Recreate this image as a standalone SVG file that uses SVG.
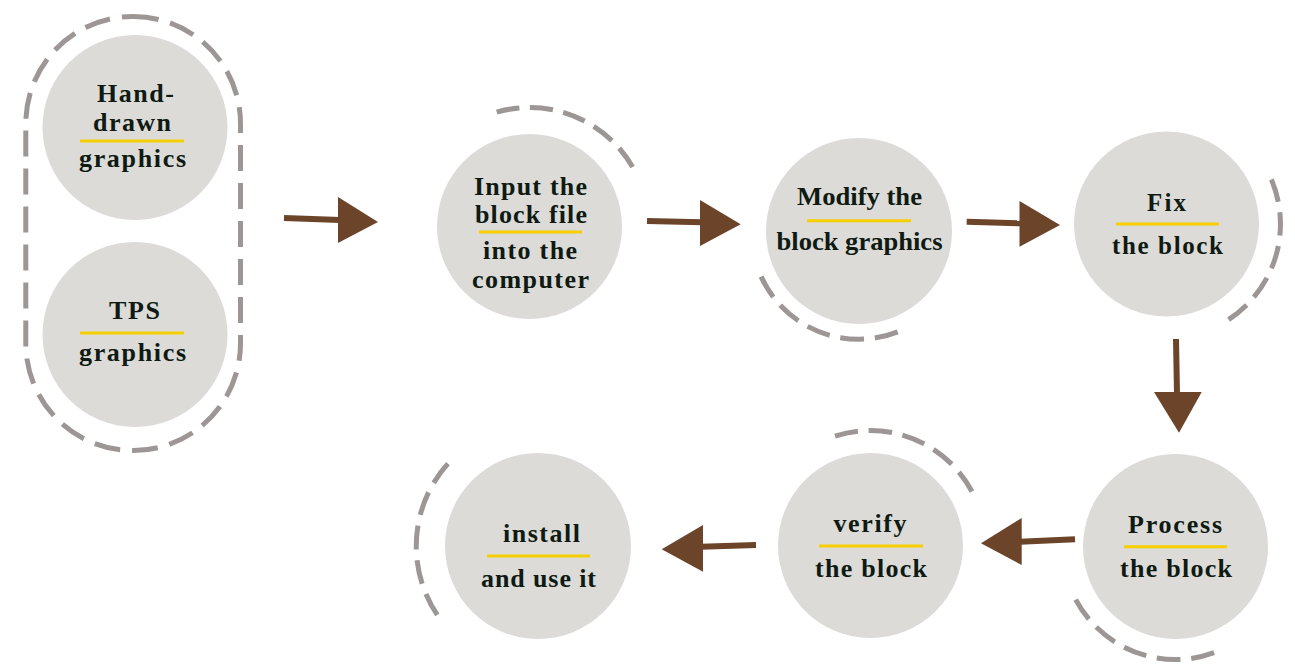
<svg xmlns="http://www.w3.org/2000/svg" width="1295" height="664" viewBox="0 0 1295 664">
<style>
.c{fill:#dcdbd8}
.d{fill:none;stroke:#9c9694;stroke-width:5;stroke-dasharray:22 10}
.y{stroke:#f7cf00;stroke-width:3}
.t{font-family:"Liberation Serif","Times New Roman",serif;font-weight:bold;fill:#0e1a12;text-anchor:middle;font-size:26px}
.m{font-size:25px}
.s{stroke:#6b4429;stroke-width:6;fill:none}
.h{fill:#6b4429}
</style>
<rect width="1295" height="664" fill="#ffffff"/>
<g id="group-left">
<rect class="d" x="25.8" y="16.5" width="214.7" height="434" rx="107" ry="107" style="stroke-dasharray:26 12"/>
</g>
<g id="node-hand">
<circle class="c" cx="135" cy="127.5" r="92.5"/>
<text class="t" x="135.5" y="102" textLength="77" lengthAdjust="spacing">Hand-</text>
<text class="t" x="132" y="131" textLength="78" lengthAdjust="spacing">drawn</text>
<line class="y" x1="80" y1="141" x2="184" y2="141"/>
<text class="t" x="132.5" y="167" textLength="107" lengthAdjust="spacing">graphics</text>
</g>
<g id="node-tps">
<circle class="c" cx="135" cy="334.5" r="92.5"/>
<text class="t" x="134.5" y="319" textLength="51" lengthAdjust="spacing">TPS</text>
<line class="y" x1="80" y1="333" x2="184" y2="333"/>
<text class="t" x="132.5" y="360.7" textLength="107" lengthAdjust="spacing">graphics</text>
</g>
<g id="node-input">
<path class="d" pathLength="150" d="M496.7,112.1 A119,119 0 0 1 632.6,167"/>
<circle class="c" cx="529.5" cy="226.5" r="92.5"/>
<text class="t" x="530.5" y="195" textLength="113" lengthAdjust="spacing">Input the</text>
<text class="t" x="531" y="223" textLength="112" lengthAdjust="spacing">block file</text>
<line class="y" x1="479" y1="232" x2="582" y2="232"/>
<text class="t" x="530" y="259" textLength="94" lengthAdjust="spacing">into the</text>
<text class="t" x="530.5" y="288" textLength="117" lengthAdjust="spacing">computer</text>
</g>
<g id="node-modify">
<path class="d" pathLength="150" d="M897.7,331.8 A107,107 0 0 1 761.1,276.6"/>
<circle class="c" cx="859" cy="231" r="93"/>
<text class="t m" x="859.5" y="205" textLength="125" lengthAdjust="spacingAndGlyphs">Modify the</text>
<line class="y" x1="807" y1="220.7" x2="911" y2="220.7"/>
<text class="t m" x="859.5" y="250" textLength="166" lengthAdjust="spacingAndGlyphs">block graphics</text>
</g>
<g id="node-fix">
<path class="d" pathLength="150" d="M1271.4,179.5 A114,114 0 0 1 1228.6,319.6"/>
<circle class="c" cx="1166.5" cy="224" r="92.5"/>
<text class="t m" x="1166.5" y="210.7" textLength="39" lengthAdjust="spacing">Fix</text>
<line class="y" x1="1116" y1="224" x2="1219" y2="224"/>
<text class="t m" x="1167.5" y="254" textLength="111" lengthAdjust="spacing">the block</text>
</g>
<g id="node-process">
<path class="d" pathLength="150" d="M1214.1,652.7 A113,113 0 0 1 1075.7,599.6"/>
<circle class="c" cx="1175.5" cy="546.5" r="92.5"/>
<text class="t" x="1175" y="533" textLength="94" lengthAdjust="spacing">Process</text>
<line class="y" x1="1124" y1="546.7" x2="1227" y2="546.7"/>
<text class="t" x="1176" y="576.7" textLength="112" lengthAdjust="spacing">the block</text>
</g>
<g id="node-verify">
<path class="d" pathLength="150" d="M835,436.1 A115,115 0 0 1 972,491.5"/>
<circle class="c" cx="870.5" cy="545.5" r="92.5"/>
<text class="t" x="870" y="531.7" textLength="73" lengthAdjust="spacing">verify</text>
<line class="y" x1="819" y1="546" x2="923" y2="546"/>
<text class="t" x="871" y="576.7" textLength="112" lengthAdjust="spacing">the block</text>
</g>
<g id="node-install">
<path class="d" pathLength="150" d="M437.3,614.9 A123,123 0 0 1 447.9,463.7"/>
<circle class="c" cx="538" cy="546" r="93"/>
<text class="t" x="541.5" y="541.7" textLength="77" lengthAdjust="spacing">install</text>
<line class="y" x1="487" y1="556" x2="590" y2="556"/>
<text class="t" x="538.5" y="586.7" textLength="115" lengthAdjust="spacing">and use it</text>
</g>
<g id="connectors">
<line class="s" x1="284" y1="218" x2="340" y2="220"/>
<polygon class="h" points="338,197 378,222 338,243"/>
<line class="s" x1="647" y1="221" x2="702" y2="222.3"/>
<polygon class="h" points="700,200 740.7,224.3 700,246"/>
<line class="s" x1="966.7" y1="221.7" x2="1021" y2="223.3"/>
<polygon class="h" points="1019.5,201 1060,225 1019.5,246.7"/>
<line class="s" x1="1176" y1="339" x2="1177" y2="394"/>
<polygon class="h" points="1154,392 1201.7,392 1179,432.7"/>
<line class="s" x1="1075" y1="539.3" x2="1020" y2="541.7"/>
<polygon class="h" points="1021.7,518 981,543.3 1021.7,565"/>
<line class="s" x1="756" y1="545" x2="701" y2="546.7"/>
<polygon class="h" points="703,525 661.7,549.3 703,571.7"/>
</g>
</svg>
